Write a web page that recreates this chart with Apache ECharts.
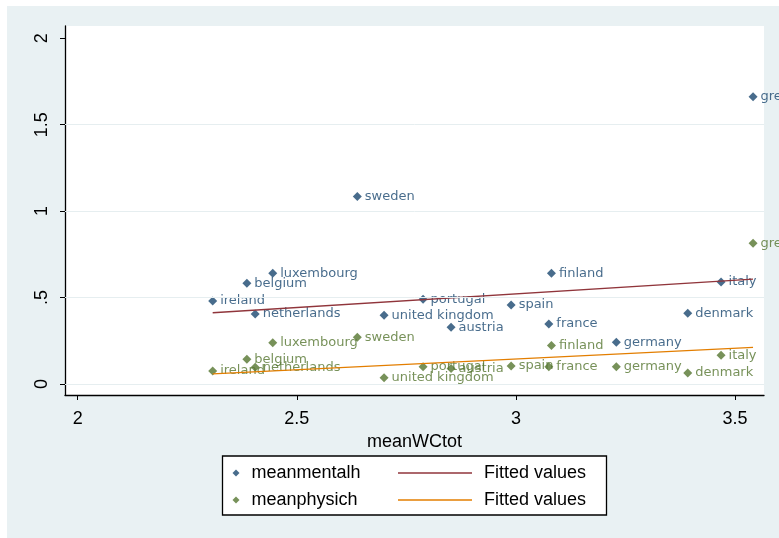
<!DOCTYPE html>
<html><head><meta charset="utf-8">
<script src="https://cdn.jsdelivr.net/npm/echarts@6/dist/echarts.min.js"></script>
<style>html,body{margin:0;padding:0;background:#fff}#c{width:779px;height:538px}</style>
</head><body><div id="c"></div>
<script>
const countries = ['ireland','belgium','luxembourg','netherlands','portugal','united kingdom','austria','sweden','greece','finland','italy','spain','denmark','france','germany'];
const meanWCtot = [2.308,2.386,2.445,2.405,2.788,2.699,2.852,2.638,3.541,3.081,3.468,2.989,3.392,3.075,3.229];
const meanmentalh = [0.480,0.583,0.640,0.405,0.490,0.397,0.328,1.085,1.662,0.640,0.590,0.457,0.409,0.347,0.241];
const meanphysich = [0.075,0.143,0.239,0.097,0.100,0.036,0.089,0.270,0.814,0.222,0.166,0.104,0.064,0.100,0.100];
const fitX = [2.308, 3.541];
const fitMental = [0.412, 0.606];
const fitPhysic = [0.058, 0.212];
const xTicks = [2, 2.5, 3, 3.5];
const xTickLabels = ['2', '2.5', '3', '3.5'];
const yTicks = [0, 0.5, 1, 1.5, 2];
const yTickLabels = ['0', '.5', '1', '1.5', '2'];
const gridY = [0, 0.5, 1, 1.5];

const NAVY = '#1a476f', MAROON = '#90353b', GREEN = '#55752f', ORANGE = '#e37e00';
const AX_FONT = 'Liberation Sans, Arial, sans-serif';
const LBL_FONT = 'DejaVu Sans, Verdana, sans-serif';

function scatterSeries(name, values, color) {
  return {
    name: name, type: 'scatter', z: 3,
    data: countries.map((c, i) => [meanWCtot[i], values[i], c]),
    symbol: 'diamond', symbolSize: 9,
    itemStyle: { color: color },
    label: {
      show: true, position: 'right', distance: 3,
      formatter: p => p.data[2],
      color: color, fontSize: 13, fontFamily: LBL_FONT
    },
    emphasis: { disabled: true }
  };
}
function fitSeries(name, ys, color) {
  return {
    name: name, type: 'line', z: 4,
    data: fitX.map((x, i) => [x, ys[i]]),
    symbol: 'none', color: color,
    lineStyle: { color: color, width: 1.3 },
    emphasis: { disabled: true }
  };
}

const chart = echarts.init(document.getElementById('c'), null, { renderer: 'canvas' });
chart.setOption({
  backgroundColor: '#e9f1f3',
  animation: false,
  grid: {
    left: 65, right: 15, top: 26, bottom: 143,
    show: true, backgroundColor: '#ffffff', borderWidth: 0
  },
  xAxis: {
    type: 'value', min: 1.971, max: 3.566,
    name: 'meanWCtot', nameLocation: 'middle', nameGap: 33,
    nameTextStyle: { fontSize: 18, fontFamily: AX_FONT, color: '#000' },
    axisLine: { show: true, onZero: false, lineStyle: { color: '#000', width: 1.3 } },
    axisTick: { show: true, length: 5, customValues: xTicks, lineStyle: { color: '#000' } },
    axisLabel: {
      customValues: xTicks, margin: 15,
      formatter: v => xTickLabels[xTicks.indexOf(v)],
      fontSize: 18, fontFamily: AX_FONT, color: '#000'
    },
    splitLine: { show: false }
  },
  yAxis: {
    type: 'value', min: -0.064, max: 2.071,
    axisLine: { show: true, onZero: false, lineStyle: { color: '#000', width: 1.3 } },
    axisTick: { show: true, length: 5, customValues: yTicks, lineStyle: { color: '#000' } },
    axisLabel: {
      customValues: yTicks, rotate: 90, margin: 14,
      formatter: v => yTickLabels[yTicks.indexOf(v)],
      fontSize: 18, fontFamily: AX_FONT, color: '#000'
    },
    splitLine: { show: false }
  },
  legend: [
    {
      orient: 'vertical', left: 232.5, top: 463, padding: 0,
      itemWidth: 7, itemHeight: 7, itemGap: 7,
      selectedMode: false,
      data: [{ name: 'meanmentalh', icon: 'diamond' }, { name: 'meanphysich', icon: 'diamond' }],
      textStyle: { fontSize: 18, lineHeight: 20, fontFamily: AX_FONT, color: '#000', padding: [0, 0, 0, 7] }
    },
    {
      orient: 'vertical', left: 398, top: 463, padding: 0,
      itemWidth: 74, itemHeight: 1.5, itemGap: 7,
      selectedMode: false,
      data: [{ name: 'fit1', icon: 'rect' }, { name: 'fit2', icon: 'rect' }],
      formatter: () => 'Fitted values',
      textStyle: { fontSize: 18, lineHeight: 20, fontFamily: AX_FONT, color: '#000', padding: [0, 0, 0, 7] }
    }
  ],
  graphic: [
    { type: 'rect', shape: { x: 0, y: 0, width: 779, height: 6 }, style: { fill: '#fff' }, silent: true },
    { type: 'rect', shape: { x: 0, y: 0, width: 7, height: 538 }, style: { fill: '#fff' }, silent: true },
    { type: 'rect', shape: { x: 222.5, y: 456, width: 384, height: 59 },
      style: { fill: '#fff', stroke: '#000', lineWidth: 1.3 }, silent: true }
  ],
  series: [
    {
      name: 'grid', type: 'line', data: [], z: 1, silent: true,
      markLine: {
        silent: true, symbol: 'none', label: { show: false },
        lineStyle: { color: '#e6eef0', width: 1, type: 'solid' },
        emphasis: { disabled: true },
        data: gridY.map(v => ({ yAxis: v }))
      }
    },
    scatterSeries('meanmentalh', meanmentalh, NAVY),
    fitSeries('fit1', fitMental, MAROON),
    scatterSeries('meanphysich', meanphysich, GREEN),
    fitSeries('fit2', fitPhysic, ORANGE)
  ]
});
</script></body></html>
